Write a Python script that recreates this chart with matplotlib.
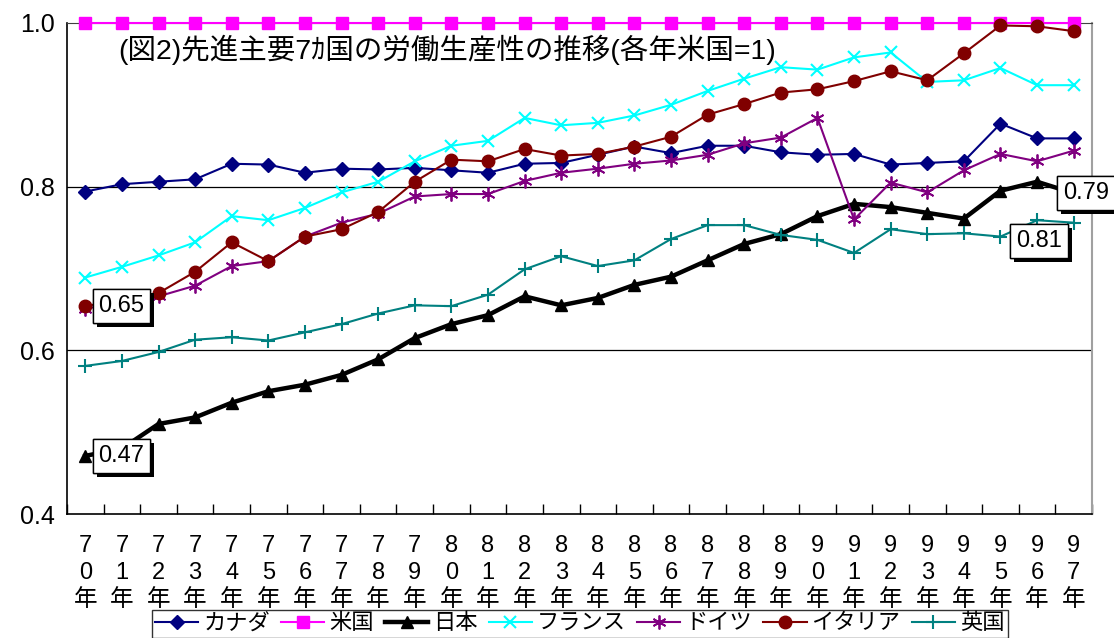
import matplotlib
matplotlib.use("Agg")
import matplotlib.pyplot as plt
import matplotlib.patheffects as pe
from matplotlib.ticker import MultipleLocator
import numpy as np

plt.rcParams['font.family'] = ['Liberation Sans', 'Noto Sans CJK JP', 'DejaVu Sans']

years = list(range(70, 98))
canada = [0.794, 0.803, 0.806, 0.809, 0.828, 0.827, 0.817, 0.822, 0.821, 0.823,
          0.820, 0.817, 0.828, 0.829, 0.839, 0.849, 0.841, 0.850, 0.850, 0.842,
          0.839, 0.840, 0.827, 0.829, 0.831, 0.877, 0.859, 0.859]
usa = [1.0] * 28
japan = [0.471, 0.480, 0.510, 0.518, 0.536, 0.550, 0.558, 0.570, 0.589, 0.615,
         0.632, 0.643, 0.666, 0.655, 0.664, 0.680, 0.690, 0.710, 0.730, 0.742,
         0.764, 0.779, 0.775, 0.768, 0.761, 0.795, 0.806, 0.792]
france = [0.689, 0.702, 0.716, 0.732, 0.764, 0.759, 0.774, 0.793, 0.806, 0.831,
          0.850, 0.856, 0.884, 0.875, 0.878, 0.887, 0.900, 0.917, 0.932, 0.946,
          0.943, 0.958, 0.964, 0.928, 0.930, 0.945, 0.924, 0.924]
germany = [0.651, 0.658, 0.666, 0.679, 0.703, 0.709, 0.739, 0.756, 0.767, 0.788,
           0.791, 0.791, 0.807, 0.817, 0.822, 0.828, 0.832, 0.839, 0.853, 0.860,
           0.884, 0.760, 0.805, 0.793, 0.820, 0.840, 0.831, 0.844]
italy = [0.654, 0.662, 0.670, 0.696, 0.732, 0.709, 0.739, 0.748, 0.769, 0.806,
         0.833, 0.831, 0.846, 0.838, 0.840, 0.849, 0.861, 0.888, 0.901, 0.915,
         0.919, 0.929, 0.941, 0.930, 0.963, 0.997, 0.996, 0.990]
uk = [0.581, 0.587, 0.598, 0.613, 0.616, 0.612, 0.622, 0.632, 0.645, 0.655,
      0.654, 0.668, 0.699, 0.715, 0.703, 0.710, 0.736, 0.753, 0.753, 0.741,
      0.735, 0.719, 0.748, 0.742, 0.743, 0.739, 0.759, 0.756]

xlabels = ["%d\n%d\n年" % (y // 10, y % 10) for y in years]
x = np.arange(len(years))

fig = plt.figure(figsize=(11.14, 6.38), dpi=100)
ax = fig.add_axes([67/1114, 1-514/638, (1092-67)/1114, (514-23)/638])

ax.plot(x, canada, color='#000080', marker='D', ms=7, lw=1.5, label='カナダ', clip_on=False)
ax.plot(x, usa, color='#FF00FF', marker='s', ms=8, lw=1.5, label='米国', clip_on=False, zorder=5)
ax.plot(x, japan, color='black', marker='^', ms=9, lw=3.2, label='日本', clip_on=False)
ax.plot(x, france, color='#00FFFF', marker='x', ms=9, mew=1.5, lw=1.5, label='フランス', clip_on=False)
ax.plot(x, germany, color='#800080', marker=(6, 2, 0), ms=10, mew=1.3, lw=1.5, label='ドイツ', clip_on=False)
ax.plot(x, italy, color='#800000', marker='o', ms=9, lw=1.5, label='イタリア', clip_on=False, zorder=6)
ax.plot(x, uk, color='#008080', marker='+', ms=10, mew=1.5, lw=1.5, label='英国', clip_on=False)

ax.set_xlim(-0.5, 27.5)
ax.set_ylim(0.4, 1.0)
ax.set_yticks([0.4, 0.6, 0.8, 1.0])
ax.set_yticklabels(['0.4', '0.6', '0.8', '1.0'], fontsize=18)
ax.tick_params(axis='y', length=0, pad=9)
for g in [0.6, 0.8]:
    ax.axhline(g, color='black', lw=0.9, zorder=1)

ax.set_xticks(x)
ax.set_xticklabels(xlabels, fontsize=17, linespacing=1.3)
ax.xaxis.set_minor_locator(MultipleLocator(1, offset=0.5))
ax.tick_params(axis='x', which='major', length=0, pad=15)
ax.tick_params(axis='x', which='minor', direction='in', length=7, width=1)

for s in ['left', 'bottom']:
    ax.spines[s].set_linewidth(1.2)
ax.spines['top'].set_color('#404040')
ax.spines['right'].set_color('#a0a0a0')
ax.spines['right'].set_linewidth(1.5)

ax.text(0.05, 0.945, '(図2)先進主要7ｶ国の労働生産性の推移(各年米国=1)', transform=ax.transAxes,
        fontsize=20.5, ha='left', va='center')

def label(i, vals, txt, dx, dy):
    t = ax.annotate(txt, xy=(i, vals[i]), xytext=(dx, dy), textcoords='offset points',
                    fontsize=17, ha='center', va='center', zorder=10,
                    bbox=dict(boxstyle='square,pad=0.25', fc='white', ec='black', lw=1))
    t.get_bbox_patch().set_path_effects([pe.withSimplePatchShadow(offset=(3, -3), shadow_rgbFace='black', alpha=1.0), pe.Normal()])

label(0, italy, '0.65', 26, 0)
label(0, japan, '0.47', 26, 0)
label(26, japan, '0.81', 1.5, -42.5)
label(27, japan, '0.79', 9, 0)

leg = fig.legend(loc='upper left', bbox_to_anchor=(151.7/1114, 1-610/638), ncol=7, fontsize=16,
                 frameon=True, fancybox=False, edgecolor='black', handlelength=1.95,
                 handletextpad=0.22, columnspacing=0.5, borderpad=0.15, borderaxespad=0)
leg.get_frame().set_linewidth(1)

fig.savefig('out.png', dpi=100)
